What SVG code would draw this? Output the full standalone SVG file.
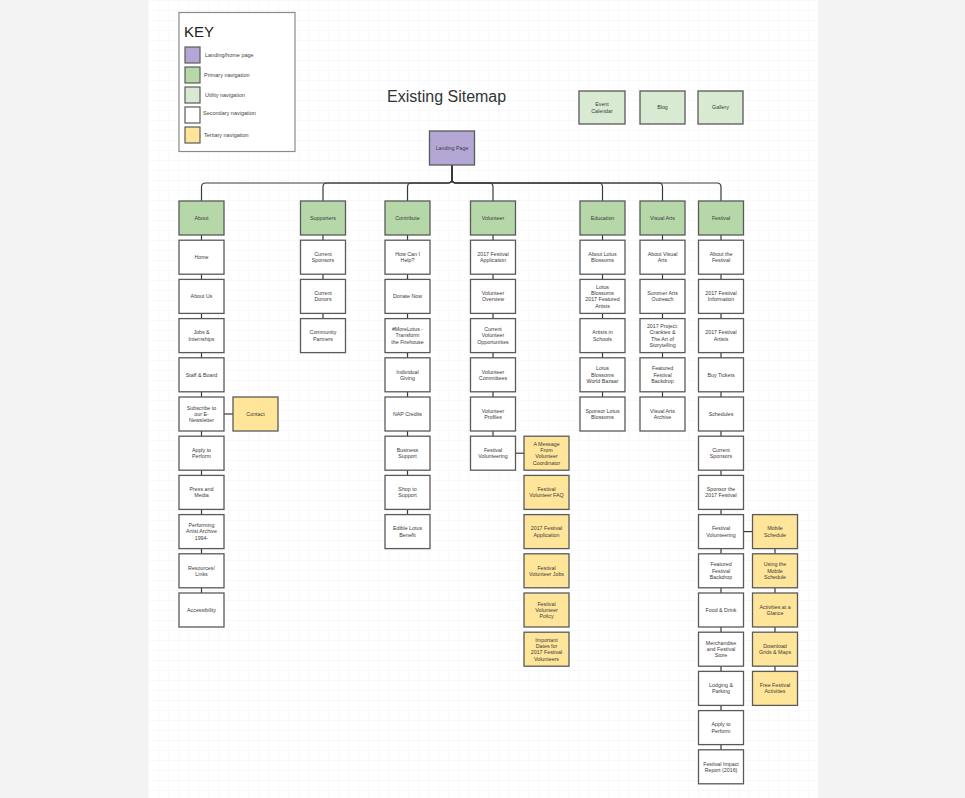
<svg xmlns="http://www.w3.org/2000/svg" width="965" height="798" viewBox="0 0 965 798">
<defs>
<pattern id="grid" width="10" height="10" patternUnits="userSpaceOnUse" x="148" y="0">
<path d="M10 0H0V10" fill="none" stroke="#ebebf2" stroke-width="0.6"/>
</pattern>
<style>
.n rect{stroke:#5a5a5a;stroke-width:1.3;fill:#ffffff}
.n text{font-family:"Liberation Sans",Arial,sans-serif;font-size:5.3px;fill:#3a3a3a;text-anchor:middle}
.p rect{fill:#b6d7a8}
.u rect{fill:#d9ead3}
.t rect{fill:#ffe599}
.l rect{fill:#b4a7d6}
.c{fill:none;stroke:#3a3a3a;stroke-width:1.2}
.kl{font-family:"Liberation Sans",Arial,sans-serif;font-size:5.5px;fill:#444}
.ks{stroke:#5a5a5a;stroke-width:1.2}
</style>
</defs>
<rect width="965" height="798" fill="#f3f3f3"/>
<rect x="148" y="0" width="670" height="798" fill="#ffffff"/>
<rect x="148" y="0" width="670" height="798" fill="url(#grid)"/>

<g id="key">
<rect x="179" y="12.5" width="116" height="139" fill="#ffffff" stroke="#8a8a8a" stroke-width="1.2"/>
<text x="184" y="36.5" font-family="Liberation Sans,Arial,sans-serif" font-size="15" fill="#222">KEY</text>
<rect class="ks" x="185" y="47" width="15" height="16" fill="#b4a7d6"/>
<rect class="ks" x="185" y="67" width="15" height="16" fill="#b6d7a8"/>
<rect class="ks" x="185" y="87" width="15" height="16" fill="#d9ead3"/>
<rect class="ks" x="185" y="107" width="15" height="16" fill="#ffffff"/>
<rect class="ks" x="185" y="127" width="15" height="16" fill="#ffe599"/>
<text class="kl" x="205" y="57">Landing/home page</text>
<text class="kl" x="204" y="77">Primary navigation</text>
<text class="kl" x="205" y="96.5">Utility navigation</text>
<text class="kl" x="203" y="114.5">Secondary navigation</text>
<text class="kl" x="204" y="137">Tertiary navigation</text>
</g>

<text id="title" x="387" y="101.5" font-family="Liberation Sans,Arial,sans-serif" font-size="16" fill="#333">Existing Sitemap</text>

<g id="connectors">
<path class="c" d="M452,165V179Q452,183 448,183H205.5Q201.5,183 201.5,187V201"/>
<path class="c" d="M452,165V179Q452,183 448,183H327Q323,183 323,187V201"/>
<path class="c" d="M452,165V179Q452,183 448,183H411.5Q407.5,183 407.5,187V201"/>
<path class="c" d="M452,165V179Q452,183 456,183H489Q493,183 493,187V201"/>
<path class="c" d="M452,165V179Q452,183 456,183H598.5Q602.5,183 602.5,187V201"/>
<path class="c" d="M452,165V179Q452,183 456,183H658.5Q662.5,183 662.5,187V201"/>
<path class="c" d="M452,165V179Q452,183 456,183H717Q721,183 721,187V201"/>
<path class="c" d="M201.5,235V593"/>
<path class="c" d="M323,235V318.6"/>
<path class="c" d="M407.5,235V514.6"/>
<path class="c" d="M493,235V436.2"/>
<path class="c" d="M602.5,235V397"/>
<path class="c" d="M662.5,235V397"/>
<path class="c" d="M721,235V749.8"/>
<path class="c" d="M775,548.6V671.4"/>
<path class="c" d="M224,414H233"/>
<path class="c" d="M515.5,453.2H524"/>
<path class="c" d="M743.5,531.6H752.5"/>
</g>

<g id="utility">
<g id="event-calendar" class="n u" transform="translate(579,91)"><rect width="46" height="33"/><text x="23" y="15.3">Event<tspan x="23" dy="6.3">Calendar</tspan></text></g>
<g id="blog" class="n u" transform="translate(640,91)"><rect width="45" height="33"/><text x="22.5" y="18.4">Blog</text></g>
<g id="gallery" class="n u" transform="translate(698,91)"><rect width="45" height="33"/><text x="22.5" y="18.4">Gallery</text></g>
</g>

<g id="landing-page" class="n l" transform="translate(429.5,131)"><rect width="45" height="34"/><text x="22.5" y="18.9">Landing Page</text></g>

<!-- About column -->
<g id="about" class="n p" transform="translate(179,201)"><rect width="45" height="34"/><text x="22.5" y="18.9">About</text></g>
<g id="home" class="n" transform="translate(179,240.2)"><rect width="45" height="34"/><text x="22.5" y="18.9">Home</text></g>
<g id="about-us" class="n" transform="translate(179,279.4)"><rect width="45" height="34"/><text x="22.5" y="18.9">About Us</text></g>
<g id="jobs" class="n" transform="translate(179,318.6)"><rect width="45" height="34"/><text x="22.5" y="15.75">Jobs &amp;<tspan x="22.5" dy="6.3">Internships</tspan></text></g>
<g id="staff-board" class="n" transform="translate(179,357.8)"><rect width="45" height="34"/><text x="22.5" y="18.9">Staff &amp; Board</text></g>
<g id="subscribe" class="n" transform="translate(179,397)"><rect width="45" height="34"/><text x="22.5" y="12.6">Subscribe to<tspan x="22.5" dy="6.3">our E-</tspan><tspan x="22.5" dy="6.3">Newsletter</tspan></text></g>
<g id="apply-perform-a" class="n" transform="translate(179,436.2)"><rect width="45" height="34"/><text x="22.5" y="15.75">Apply to<tspan x="22.5" dy="6.3">Perform</tspan></text></g>
<g id="press-media" class="n" transform="translate(179,475.4)"><rect width="45" height="34"/><text x="22.5" y="15.75">Press and<tspan x="22.5" dy="6.3">Media</tspan></text></g>
<g id="performing-archive" class="n" transform="translate(179,514.6)"><rect width="45" height="34"/><text x="22.5" y="12.6">Performing<tspan x="22.5" dy="6.3">Artist Archive</tspan><tspan x="22.5" dy="6.3">1994-</tspan></text></g>
<g id="resources" class="n" transform="translate(179,553.8)"><rect width="45" height="34"/><text x="22.5" y="15.75">Resources/<tspan x="22.5" dy="6.3">Links</tspan></text></g>
<g id="accessibility" class="n" transform="translate(179,593)"><rect width="45" height="34"/><text x="22.5" y="18.9">Accessibility</text></g>
<g id="contact" class="n t" transform="translate(233,397)"><rect width="45" height="34"/><text x="22.5" y="18.9">Contact</text></g>

<!-- Supporters -->
<g id="supporters" class="n p" transform="translate(300.5,201)"><rect width="45" height="34"/><text x="22.5" y="18.9">Supporters</text></g>
<g id="current-sponsors-s" class="n" transform="translate(300.5,240.2)"><rect width="45" height="34"/><text x="22.5" y="15.75">Current<tspan x="22.5" dy="6.3">Sponsors</tspan></text></g>
<g id="current-donors" class="n" transform="translate(300.5,279.4)"><rect width="45" height="34"/><text x="22.5" y="15.75">Current<tspan x="22.5" dy="6.3">Donors</tspan></text></g>
<g id="community-partners" class="n" transform="translate(300.5,318.6)"><rect width="45" height="34"/><text x="22.5" y="15.75">Community<tspan x="22.5" dy="6.3">Partners</tspan></text></g>

<!-- Contribute -->
<g id="contribute" class="n p" transform="translate(385,201)"><rect width="45" height="34"/><text x="22.5" y="18.9">Contribute</text></g>
<g id="how-can-i-help" class="n" transform="translate(385,240.2)"><rect width="45" height="34"/><text x="22.5" y="15.75">How Can I<tspan x="22.5" dy="6.3">Help?</tspan></text></g>
<g id="donate-now" class="n" transform="translate(385,279.4)"><rect width="45" height="34"/><text x="22.5" y="18.9">Donate Now</text></g>
<g id="morelotus" class="n" transform="translate(385,318.6)"><rect width="45" height="34"/><text x="22.5" y="12.6">#MoreLotus -<tspan x="22.5" dy="6.3">Transform</tspan><tspan x="22.5" dy="6.3">the Firehouse</tspan></text></g>
<g id="individual-giving" class="n" transform="translate(385,357.8)"><rect width="45" height="34"/><text x="22.5" y="15.75">Individual<tspan x="22.5" dy="6.3">Giving</tspan></text></g>
<g id="nap-credits" class="n" transform="translate(385,397)"><rect width="45" height="34"/><text x="22.5" y="18.9">NAP Credits</text></g>
<g id="business-support" class="n" transform="translate(385,436.2)"><rect width="45" height="34"/><text x="22.5" y="15.75">Business<tspan x="22.5" dy="6.3">Support</tspan></text></g>
<g id="shop-to-support" class="n" transform="translate(385,475.4)"><rect width="45" height="34"/><text x="22.5" y="15.75">Shop to<tspan x="22.5" dy="6.3">Support</tspan></text></g>
<g id="edible-lotus" class="n" transform="translate(385,514.6)"><rect width="45" height="34"/><text x="22.5" y="15.75">Edible Lotus<tspan x="22.5" dy="6.3">Benefit</tspan></text></g>

<!-- Volunteer -->
<g id="volunteer" class="n p" transform="translate(470.5,201)"><rect width="45" height="34"/><text x="22.5" y="18.9">Volunteer</text></g>
<g id="vol-2017-app" class="n" transform="translate(470.5,240.2)"><rect width="45" height="34"/><text x="22.5" y="15.75">2017 Festival<tspan x="22.5" dy="6.3">Application</tspan></text></g>
<g id="vol-overview" class="n" transform="translate(470.5,279.4)"><rect width="45" height="34"/><text x="22.5" y="15.75">Volunteer<tspan x="22.5" dy="6.3">Overview</tspan></text></g>
<g id="vol-opportunities" class="n" transform="translate(470.5,318.6)"><rect width="45" height="34"/><text x="22.5" y="12.6">Current<tspan x="22.5" dy="6.3">Volunteer</tspan><tspan x="22.5" dy="6.3">Opportunities</tspan></text></g>
<g id="vol-committees" class="n" transform="translate(470.5,357.8)"><rect width="45" height="34"/><text x="22.5" y="15.75">Volunteer<tspan x="22.5" dy="6.3">Committees</tspan></text></g>
<g id="vol-profiles" class="n" transform="translate(470.5,397)"><rect width="45" height="34"/><text x="22.5" y="15.75">Volunteer<tspan x="22.5" dy="6.3">Profiles</tspan></text></g>
<g id="vol-fest-volunteering" class="n" transform="translate(470.5,436.2)"><rect width="45" height="34"/><text x="22.5" y="15.75">Festival<tspan x="22.5" dy="6.3">Volunteering</tspan></text></g>
<g id="vt-message" class="n t" transform="translate(524,436.2)"><rect width="45" height="34"/><text x="22.5" y="9.45">A Message<tspan x="22.5" dy="6.3">From</tspan><tspan x="22.5" dy="6.3">Volunteer</tspan><tspan x="22.5" dy="6.3">Coordinator</tspan></text></g>
<g id="vt-faq" class="n t" transform="translate(524,475.4)"><rect width="45" height="34"/><text x="22.5" y="15.75">Festival<tspan x="22.5" dy="6.3">Volunteer FAQ</tspan></text></g>
<g id="vt-app" class="n t" transform="translate(524,514.6)"><rect width="45" height="34"/><text x="22.5" y="15.75">2017 Festival<tspan x="22.5" dy="6.3">Application</tspan></text></g>
<g id="vt-jobs" class="n t" transform="translate(524,553.8)"><rect width="45" height="34"/><text x="22.5" y="15.75">Festival<tspan x="22.5" dy="6.3">Volunteer Jobs</tspan></text></g>
<g id="vt-policy" class="n t" transform="translate(524,593)"><rect width="45" height="34"/><text x="22.5" y="12.6">Festival<tspan x="22.5" dy="6.3">Volunteer</tspan><tspan x="22.5" dy="6.3">Policy</tspan></text></g>
<g id="vt-dates" class="n t" transform="translate(524,632.2)"><rect width="45" height="34"/><text x="22.5" y="9.45">Important<tspan x="22.5" dy="6.3">Dates for</tspan><tspan x="22.5" dy="6.3">2017 Festival</tspan><tspan x="22.5" dy="6.3">Volunteers</tspan></text></g>

<!-- Education -->
<g id="education" class="n p" transform="translate(580,201)"><rect width="45" height="34"/><text x="22.5" y="18.9">Education</text></g>
<g id="about-lotus" class="n" transform="translate(580,240.2)"><rect width="45" height="34"/><text x="22.5" y="15.75">About Lotus<tspan x="22.5" dy="6.3">Blossoms</tspan></text></g>
<g id="lotus-featured" class="n" transform="translate(580,279.4)"><rect width="45" height="34"/><text x="22.5" y="9.45">Lotus<tspan x="22.5" dy="6.3">Blossoms</tspan><tspan x="22.5" dy="6.3">2017 Featured</tspan><tspan x="22.5" dy="6.3">Artists</tspan></text></g>
<g id="artists-schools" class="n" transform="translate(580,318.6)"><rect width="45" height="34"/><text x="22.5" y="15.75">Artists in<tspan x="22.5" dy="6.3">Schools</tspan></text></g>
<g id="lotus-bazaar" class="n" transform="translate(580,357.8)"><rect width="45" height="34"/><text x="22.5" y="12.6">Lotus<tspan x="22.5" dy="6.3">Blossoms</tspan><tspan x="22.5" dy="6.3">World Bazaar</tspan></text></g>
<g id="sponsor-lotus" class="n" transform="translate(580,397)"><rect width="45" height="34"/><text x="22.5" y="15.75">Sponsor Lotus<tspan x="22.5" dy="6.3">Blossoms</tspan></text></g>

<!-- Visual Arts -->
<g id="visual-arts" class="n p" transform="translate(640,201)"><rect width="45" height="34"/><text x="22.5" y="18.9">Visual Arts</text></g>
<g id="about-visual-arts" class="n" transform="translate(640,240.2)"><rect width="45" height="34"/><text x="22.5" y="15.75">About Visual<tspan x="22.5" dy="6.3">Arts</tspan></text></g>
<g id="summer-arts" class="n" transform="translate(640,279.4)"><rect width="45" height="34"/><text x="22.5" y="15.75">Summer Arts<tspan x="22.5" dy="6.3">Outreach</tspan></text></g>
<g id="crankies" class="n" transform="translate(640,318.6)"><rect width="45" height="34"/><text x="22.5" y="9.45">2017 Project:<tspan x="22.5" dy="6.3">Crankies &amp;</tspan><tspan x="22.5" dy="6.3">The Art of</tspan><tspan x="22.5" dy="6.3">Storytelling</tspan></text></g>
<g id="va-backdrop" class="n" transform="translate(640,357.8)"><rect width="45" height="34"/><text x="22.5" y="12.6">Featured<tspan x="22.5" dy="6.3">Festival</tspan><tspan x="22.5" dy="6.3">Backdrop</tspan></text></g>
<g id="va-archive" class="n" transform="translate(640,397)"><rect width="45" height="34"/><text x="22.5" y="15.75">Visual Arts<tspan x="22.5" dy="6.3">Archive</tspan></text></g>

<!-- Festival -->
<g id="festival" class="n p" transform="translate(698.5,201)"><rect width="45" height="34"/><text x="22.5" y="18.9">Festival</text></g>
<g id="about-festival" class="n" transform="translate(698.5,240.2)"><rect width="45" height="34"/><text x="22.5" y="15.75">About the<tspan x="22.5" dy="6.3">Festival</tspan></text></g>
<g id="fest-info" class="n" transform="translate(698.5,279.4)"><rect width="45" height="34"/><text x="22.5" y="15.75">2017 Festival<tspan x="22.5" dy="6.3">Information</tspan></text></g>
<g id="fest-artists" class="n" transform="translate(698.5,318.6)"><rect width="45" height="34"/><text x="22.5" y="15.75">2017 Festival<tspan x="22.5" dy="6.3">Artists</tspan></text></g>
<g id="buy-tickets" class="n" transform="translate(698.5,357.8)"><rect width="45" height="34"/><text x="22.5" y="18.9">Buy Tickets</text></g>
<g id="schedules" class="n" transform="translate(698.5,397)"><rect width="45" height="34"/><text x="22.5" y="18.9">Schedules</text></g>
<g id="current-sponsors-f" class="n" transform="translate(698.5,436.2)"><rect width="45" height="34"/><text x="22.5" y="15.75">Current<tspan x="22.5" dy="6.3">Sponsors</tspan></text></g>
<g id="sponsor-festival" class="n" transform="translate(698.5,475.4)"><rect width="45" height="34"/><text x="22.5" y="15.75">Sponsor the<tspan x="22.5" dy="6.3">2017 Festival</tspan></text></g>
<g id="fest-volunteering" class="n" transform="translate(698.5,514.6)"><rect width="45" height="34"/><text x="22.5" y="15.75">Festival<tspan x="22.5" dy="6.3">Volunteering</tspan></text></g>
<g id="fest-backdrop" class="n" transform="translate(698.5,553.8)"><rect width="45" height="34"/><text x="22.5" y="12.6">Featured<tspan x="22.5" dy="6.3">Festival</tspan><tspan x="22.5" dy="6.3">Backdrop</tspan></text></g>
<g id="food-drink" class="n" transform="translate(698.5,593)"><rect width="45" height="34"/><text x="22.5" y="18.9">Food &amp; Drink</text></g>
<g id="merchandise" class="n" transform="translate(698.5,632.2)"><rect width="45" height="34"/><text x="22.5" y="12.6">Merchandise<tspan x="22.5" dy="6.3">and Festival</tspan><tspan x="22.5" dy="6.3">Store</tspan></text></g>
<g id="lodging" class="n" transform="translate(698.5,671.4)"><rect width="45" height="34"/><text x="22.5" y="15.75">Lodging &amp;<tspan x="22.5" dy="6.3">Parking</tspan></text></g>
<g id="apply-perform-f" class="n" transform="translate(698.5,710.6)"><rect width="45" height="34"/><text x="22.5" y="15.75">Apply to<tspan x="22.5" dy="6.3">Perform</tspan></text></g>
<g id="impact-report" class="n" transform="translate(698.5,749.8)"><rect width="45" height="34"/><text x="22.5" y="15.75">Festival Impact<tspan x="22.5" dy="6.3">Report (2016)</tspan></text></g>
<g id="mobile-schedule" class="n t" transform="translate(752.5,514.6)"><rect width="45" height="34"/><text x="22.5" y="15.75">Mobile<tspan x="22.5" dy="6.3">Schedule</tspan></text></g>
<g id="using-mobile" class="n t" transform="translate(752.5,553.8)"><rect width="45" height="34"/><text x="22.5" y="12.6">Using the<tspan x="22.5" dy="6.3">Mobile</tspan><tspan x="22.5" dy="6.3">Schedule</tspan></text></g>
<g id="activities-glance" class="n t" transform="translate(752.5,593)"><rect width="45" height="34"/><text x="22.5" y="15.75">Activities at a<tspan x="22.5" dy="6.3">Glance</tspan></text></g>
<g id="download-grids" class="n t" transform="translate(752.5,632.2)"><rect width="45" height="34"/><text x="22.5" y="15.75">Download<tspan x="22.5" dy="6.3">Grids &amp; Maps</tspan></text></g>
<g id="free-activities" class="n t" transform="translate(752.5,671.4)"><rect width="45" height="34"/><text x="22.5" y="15.75">Free Festival<tspan x="22.5" dy="6.3">Activities</tspan></text></g>
</svg>
